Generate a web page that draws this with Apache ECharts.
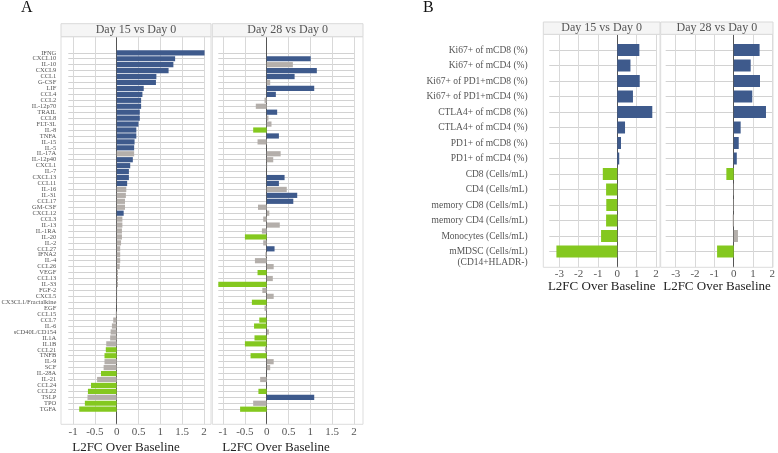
<!DOCTYPE html>
<html><head><meta charset="utf-8">
<script src="https://cdn.jsdelivr.net/npm/echarts@6/dist/echarts.min.js"></script>
<style>html,body{margin:0;padding:0;background:#fff}#c{width:778px;height:453px}</style>
</head><body><div id="c"></div>
<script>
// ---------- DATA ----------
const cytokines = ['IFNG','CXCL10','IL-10','CXCL9','CCL1','G-CSF','LIF','CCL4','CCL2','IL-12p70','TRAIL','CCL8','FLT-3L','IL-8','TNFA','IL-15','IL-5','IL-17A','IL-12p40','CXCL1','IL-7','CXCL13','CCL11','IL-16','IL-31','CCL17','GM-CSF','CXCL12','CCL3','IL-13','IL-1RA','IL-20','IL-2','CCL27','IFNA2','IL-4','CCL26','VEGF','CCL13','IL-33','FGF-2','CXCL5','CX3CL1/Fractalkine','EGF','CCL15','CCL7','IL-6','sCD40L/CD154','IL1A','IL1B','CCL21','TNFB','IL-9','SCF','IL-28A','IL-21','CCL24','CCL22','TSLP','TPO','TGFA'];
const cytoDay15 = [2.015,1.34,1.30,1.19,0.91,0.90,0.62,0.59,0.56,0.56,0.53,0.53,0.50,0.45,0.45,0.41,0.40,0.40,0.37,0.31,0.28,0.28,0.24,0.22,0.21,0.19,0.19,0.16,0.13,0.13,0.12,0.12,0.10,0.08,0.08,0.08,0.07,0.03,0.03,0.03,0.01,0.01,0.005,0.0,-0.02,-0.08,-0.11,-0.14,-0.15,-0.24,-0.25,-0.28,-0.28,-0.30,-0.36,-0.45,-0.59,-0.66,-0.67,-0.73,-0.86];
const cytoDay28 = [0,1.01,0.60,1.15,0.64,0.08,1.09,0.21,-0.05,-0.25,0.24,0.04,0.11,-0.31,0.28,-0.21,0,0.32,0.15,0.01,0,0.41,0.28,0.46,0.70,0.61,-0.20,0.06,-0.08,0.30,-0.11,-0.50,-0.08,0.18,-0.03,-0.27,0.16,-0.21,0.14,-1.11,-0.10,0.16,-0.34,-0.05,-0.01,-0.17,-0.29,0.05,-0.28,-0.50,-0.04,-0.37,0.16,0.08,0,-0.15,0,-0.19,1.09,-0.31,-0.61];
// significance: u = up, d = down, n = not significant
const cytoSig15 = ['u','u','u','u','u','u','u','u','u','u','u','u','u','u','u','u','u','n','u','u','u','u','u','n','n','n','n','u','n','n','n','n','n','n','n','n','n','n','n','n','n','n','n','n','n','n','n','n','n','n','d','d','n','n','d','n','d','d','n','d','d'];
const cytoSig28 = ['n','u','n','u','u','n','u','u','n','n','u','n','n','d','u','n','n','n','n','n','n','u','u','n','u','u','n','n','n','n','n','d','n','u','n','n','n','d','n','d','n','n','d','n','n','d','d','n','d','d','n','d','n','n','n','n','n','d','u','n','d'];

const cells = ['Ki67+ of mCD8 (%)','Ki67+ of mCD4 (%)','Ki67+ of PD1+mCD8 (%)','Ki67+ of PD1+mCD4 (%)','CTLA4+ of mCD8 (%)','CTLA4+ of mCD4 (%)','PD1+ of mCD8 (%)','PD1+ of mCD4 (%)','CD8 (Cells/mL)','CD4 (Cells/mL)','memory CD8 (Cells/mL)','memory CD4 (Cells/mL)','Monocytes (Cells/mL)','mMDSC (Cells/mL)\n(CD14+HLADR-)'];
const cellDay15 = [1.14,0.68,1.16,0.81,1.81,0.40,0.19,0.10,-0.75,-0.58,-0.57,-0.58,-0.84,-3.15];
const cellDay28 = [1.34,0.88,1.36,0.96,1.67,0.36,0.26,0.16,-0.38,-0.02,-0.02,-0.05,0.22,-0.86];
const cellSig15 = ['u','u','u','u','u','u','u','u','d','d','d','d','d','d'];
const cellSig28 = ['u','u','u','u','u','u','u','u','d','n','n','n','n','d'];

const facetTitles = ['Day 15 vs Day 0','Day 28 vs Day 0'];
const axisTitle = 'L2FC Over Baseline';
const ticksA = {min:-1.5, max:2, interval:0.5};
const ticksB = {min:-4, max:2, interval:1};

// ---------- STYLE / LAYOUT ----------
const FONT = '"Liberation Serif", "Times New Roman", serif';
const COLORS = {u:'#3E5A8C', d:'#84C81F', n:'#B4AFAB'};

const facets = [
  {cats:cytokines, vals:cytoDay15, sig:cytoSig15, title:facetTitles[0], ticks:ticksA, zero:116.7, unit:43.6,
   pL:61, pR:211, pT:36.7, pB:424.3, sT:23.7, lineMin:-1.11, lineMax:2.02, rT:52.8, rB:409.2,
   labels:true, lblSize:6.5, lblMargin:12, barW:5.2, tickY:2, titleX:126, titleY:448},
  {cats:cytokines, vals:cytoDay28, sig:cytoSig28, title:facetTitles[1], ticks:ticksA, zero:266.7, unit:43.6,
   pL:212.3, pR:363, pT:36.7, pB:424.3, sT:23.7, lineMin:-1.11, lineMax:2.02, rT:52.8, rB:409.2,
   labels:false, lblSize:6.5, lblMargin:12, barW:5.2, tickY:2, titleX:276, titleY:448},
  {cats:cells, vals:cellDay15, sig:cellSig15, title:facetTitles[0], ticks:ticksB, zero:617.3, unit:19.33,
   pL:543.3, pR:660, pT:34.3, pB:267.3, sT:22, lineMin:-3.52, lineMax:2.0, rT:50, rB:251.5,
   labels:true, lblSize:9.5, lblMargin:21.6, barW:12, tickY:1, titleX:601.7, titleY:286.5},
  {cats:cells, vals:cellDay28, sig:cellSig28, title:facetTitles[1], ticks:ticksB, zero:733.7, unit:19.33,
   pL:660.7, pR:773, pT:34.3, pB:267.3, sT:22, lineMin:-3.52, lineMax:2.0, rT:50, rB:251.5,
   labels:false, lblSize:9.5, lblMargin:21.6, barW:12, tickY:1, titleX:717, titleY:286.5}
];

const grid=[], xAxis=[], yAxis=[], series=[], graphic=[];
facets.forEach((f, i) => {
  const gBg = grid.length;
  grid.push({left: f.zero + f.ticks.min*f.unit, width:(f.ticks.max-f.ticks.min)*f.unit, top:f.pT, height:f.pB-f.pT,
    containLabel:false, outerBoundsMode:'none'});
  xAxis.push({gridIndex:gBg, type:'value', min:f.ticks.min, max:f.ticks.max, interval:f.ticks.interval,
    axisLine:{show:false}, axisTick:{show:false},
    splitLine:{show:true, showMinLine:false, showMaxLine:true, lineStyle:{color:'#D9D9D9', width:1}},
    axisLabel:{showMinLabel:false, showMaxLabel:true, fontFamily:FONT, fontSize:11, color:'#555', margin:f.tickY}});
  yAxis.push({gridIndex:gBg, type:'value', min:0, max:1, axisLine:{show:true, onZero:true, lineStyle:{color:'#555', width:1}},
    axisTick:{show:false}, axisLabel:{show:false}, splitLine:{show:false}});
  const gBar = grid.length;
  grid.push({left: f.zero + f.lineMin*f.unit, width:(f.lineMax-f.lineMin)*f.unit, top:f.rT, height:f.rB-f.rT,
    containLabel:false, outerBoundsMode:'none'});
  xAxis.push({gridIndex:gBar, type:'value', min:f.lineMin, max:f.lineMax, show:false});
  yAxis.push({gridIndex:gBar, type:'category', data:f.cats, inverse:true, boundaryGap:false,
    axisLine:{show:false}, axisTick:{show:false},
    splitLine:{show:true, lineStyle:{color:'#D2D2D2', width:1.2}},
    axisLabel:{show:f.labels, interval:0, fontFamily:FONT, fontSize:f.lblSize, color:'#555', margin:f.lblMargin,
      lineHeight: f.lblSize+1.5,
      formatter: v => v.indexOf('\n') >= 0 ? '\n' + v : v}});
  series.push({type:'bar', xAxisIndex:gBar, yAxisIndex:gBar, barWidth:f.barW, clip:false, silent:true,
    data: f.vals.map((v,k) => ({value:v, itemStyle:{color:COLORS[f.sig[k]]}}))});
  // panel frame, strip, axis title
  graphic.push({type:'rect', z:100, silent:true, shape:{x:f.pL, y:f.pT, width:f.pR-f.pL, height:f.pB-f.pT},
    style:{fill:'transparent', stroke:'#DDDDDD', lineWidth:1}});
  graphic.push({type:'rect', z:100, silent:true, shape:{x:f.pL, y:f.sT, width:f.pR-f.pL, height:f.pT-f.sT},
    style:{fill:'#F5F5F5', stroke:'#D9D9D9', lineWidth:1}});
  graphic.push({type:'text', z:101, silent:true, x:(f.pL+f.pR)/2, y:(f.sT+f.pT)/2,
    style:{text:f.title, font:'12px '+FONT, fill:'#555', align:'center', verticalAlign:'middle', textAlign:'center', textVerticalAlign:'middle'}});
  graphic.push({type:'text', z:101, silent:true, x:f.titleX, y:f.titleY,
    style:{text:axisTitle, font:'13px '+FONT, fill:'#222', align:'center', verticalAlign:'middle', textAlign:'center', textVerticalAlign:'middle'}});
});
graphic.push({type:'text', x:21, y:8, style:{text:'A', font:'16px '+FONT, fill:'#111', align:'left', verticalAlign:'middle', textAlign:'left', textVerticalAlign:'middle'}});
graphic.push({type:'text', x:423, y:8, style:{text:'B', font:'16px '+FONT, fill:'#111', align:'left', verticalAlign:'middle', textAlign:'left', textVerticalAlign:'middle'}});

const chart = echarts.init(document.getElementById('c'), null, {renderer:'canvas'});
chart.setOption({animation:false, backgroundColor:'#fff', grid, xAxis, yAxis, series, graphic});
</script></body></html>
